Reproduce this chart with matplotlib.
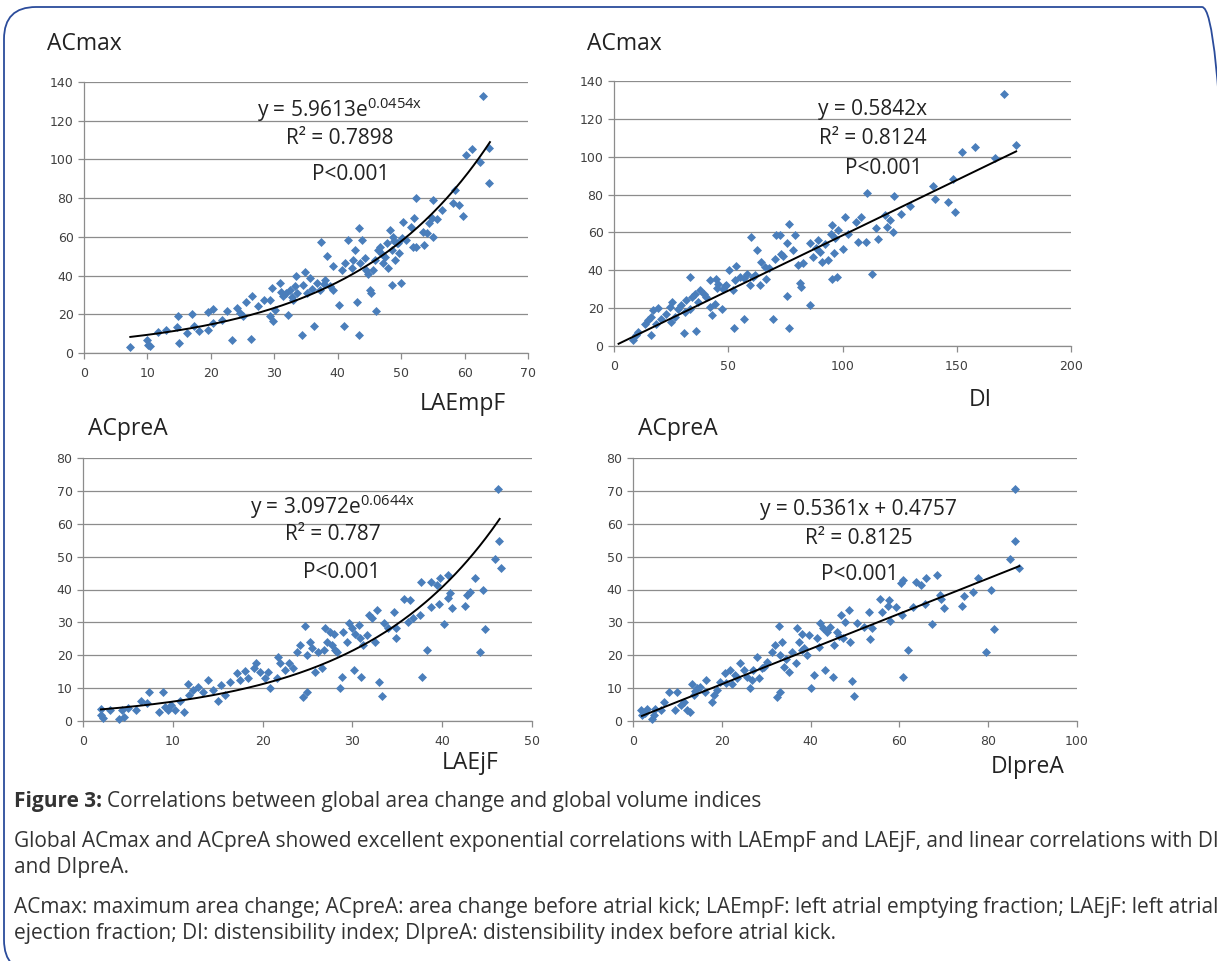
import numpy as np
import matplotlib
matplotlib.use("Agg")
import matplotlib.pyplot as plt
from matplotlib.patches import FancyBboxPatch

W, H = 1217, 961

# panel 1: ACmax vs LAEmpF
lae_mpf = [7.2, 9.9, 10.1, 10.4, 11.7, 12.9, 14.8, 14.6, 15.0, 16.2, 17.0, 17.3, 18.2, 19.6, 19.6,
           20.4, 20.3, 21.7, 22.6, 23.3, 24.1, 24.6, 25.1, 25.6, 26.4, 26.5, 27.5, 28.3, 29.3, 29.6,
           29.3, 29.8, 30.1, 30.9, 31.4, 31.9, 32.2, 32.5, 33.0, 33.2, 33.4, 34.3, 34.8, 34.6, 35.1,
           35.6, 36.3, 36.7, 37.4, 37.2, 38.0, 38.3, 38.8, 39.2, 39.3, 40.2, 40.6, 41.0, 41.1, 41.6,
           42.2, 42.4, 42.8, 43.0, 43.4, 43.4, 43.5, 43.8, 44.3, 44.5, 45.1, 45.2, 45.6, 45.9, 46.1,
           46.4, 46.6, 47.2, 47.4, 47.7, 48.0, 48.2, 48.5, 48.6, 48.7, 49.0, 49.3, 49.6, 49.9, 50.1,
           50.3, 50.8, 51.5, 51.8, 52.0, 52.4, 52.3, 53.5, 53.6, 54.0, 54.4, 54.8, 55.0, 55.0, 55.7,
           56.4, 58.2, 58.5, 59.1, 59.8, 60.3, 61.2, 62.5, 62.9, 63.9, 63.9,
           31.0, 32.8, 33.6, 36.0, 37.8, 44.8, 47.0, 48.9, 49.5]
acmax_1 = [2.9, 6.9, 4.3, 3.8, 11.0, 12.0, 18.9, 13.2, 5.2, 10.3, 20.1, 13.7, 11.2, 12.0, 21.0,
           22.7, 15.5, 17.2, 21.5, 6.9, 23.2, 20.6, 18.9, 26.6, 7.2, 29.2, 24.1, 27.5, 27.5, 33.8,
           18.9, 16.3, 22.3, 36.1, 29.2, 30.9, 19.8, 32.6, 27.5, 34.4, 39.9, 9.5, 42.1, 35.2, 30.9,
           38.7, 14.1, 36.1, 57.6, 32.6, 37.8, 50.3, 34.4, 44.7, 32.6, 24.9, 43.0, 13.7, 46.4, 58.4,
           43.8, 48.1, 53.3, 26.1, 64.4, 9.5, 46.4, 58.4, 49.0, 43.0, 32.6, 30.9, 43.0, 48.1, 21.8,
           53.3, 55.0, 46.4, 49.8, 56.7, 43.8, 63.6, 53.3, 34.9, 60.1, 48.1, 56.7, 51.5, 36.1, 59.3,
           67.9, 58.4, 65.3, 55.0, 69.6, 79.9, 55.0, 62.7, 55.8, 61.9, 67.0, 69.6, 79.0, 60.1, 69.1,
           73.9, 77.3, 84.2, 76.5, 70.8, 102.2, 105.2, 98.8, 132.6, 105.7, 88.0,
           31.5, 29.0, 31.0, 33.0, 35.5, 41.0, 51.0, 58.0, 57.0]

# panel 2: ACmax vs DI
di = [8.3, 9.8, 10.5, 13.4, 14.9, 16.4, 16.4, 17.1, 19.3, 18.5, 20.7, 22.9, 24.4, 25.1, 25.5,
      26.6, 28.0, 29.5, 31.0, 30.7, 31.4, 33.1, 33.1, 34.3, 35.9, 35.3, 36.8, 37.5, 39.4, 40.4,
      41.9, 41.9, 43.1, 44.1, 44.8, 45.5, 47.3, 47.7, 49.2, 50.4, 52.1, 52.4, 52.8, 53.6, 55.3,
      56.9, 58.0, 59.4, 60.1, 60.9, 62.6, 63.8, 64.5, 65.9, 66.7, 69.6, 70.4, 71.1, 72.6, 73.3,
      75.5, 75.8, 76.5, 76.5, 78.4, 79.1, 80.6, 81.3, 82.0, 82.8, 85.7, 85.7, 87.2, 89.3, 90.1,
      91.2, 92.3, 93.7, 94.8, 95.2, 95.6, 96.2, 97.4, 98.1, 100.3, 101.0, 102.5, 106.1, 106.9, 108.3,
      110.1, 110.8, 113.0, 114.5, 115.6, 118.5, 119.3, 120.7, 122.2, 122.5, 125.8, 129.5, 139.7, 140.4, 146.0,
      148.2, 149.2, 152.1, 158.2, 166.7, 170.7, 175.9,
      45.0, 48.5, 57.0, 61.5, 68.0, 74.0, 88.5, 96.5]
acmax_2 = [3.0, 5.6, 7.4, 11.8, 13.6, 5.6, 15.3, 18.9, 20.3, 11.8, 14.5, 17.1, 20.6, 12.7, 23.3,
           15.3, 19.7, 21.5, 18.0, 7.1, 24.2, 36.5, 19.7, 25.9, 7.8, 27.7, 23.3, 29.4, 27.7, 25.9,
           34.7, 20.6, 16.2, 22.4, 35.6, 33.0, 19.7, 30.3, 32.1, 40.0, 29.4, 9.5, 34.7, 42.1, 36.5,
           14.1, 38.3, 32.1, 57.7, 36.5, 50.6, 32.1, 44.4, 41.8, 35.6, 14.3, 45.7, 58.5, 58.5, 48.8,
           26.5, 54.5, 64.7, 9.5, 50.6, 58.5, 42.7, 33.3, 31.2, 43.6, 21.9, 54.5, 47.1, 55.9, 49.7,
           44.4, 54.1, 45.3, 59.4, 35.6, 63.8, 49.2, 36.5, 61.2, 51.5, 68.2, 59.4, 65.6, 55.0, 68.2,
           55.0, 80.6, 38.3, 62.6, 56.3, 69.1, 63.0, 66.5, 60.0, 79.4, 69.5, 73.9, 84.6, 77.6, 76.2,
           88.0, 70.9, 102.6, 104.9, 99.1, 133.1, 106.2,
           30.5, 31.5, 36.0, 37.5, 41.0, 47.5, 52.0, 57.0]

# panel 3: ACpreA vs LAEjF
laejf = [2.0, 2.0, 2.2, 3.0, 4.0, 4.3, 4.6, 5.0, 5.9, 6.5, 7.1, 7.4, 8.5, 8.9, 9.1,
         9.5, 9.8, 10.2, 10.8, 11.3, 11.7, 11.8, 12.3, 12.8, 13.4, 13.9, 14.5, 15.0, 15.4, 15.8,
         16.4, 17.1, 17.5, 18.0, 18.4, 19.0, 19.3, 19.7, 20.3, 20.6, 20.8, 21.6, 21.7, 21.9, 22.5,
         22.9, 23.4, 23.8, 24.2, 24.5, 24.7, 24.9, 24.9, 25.3, 25.5, 25.8, 26.2, 26.6, 26.8, 27.0,
         27.2, 27.5, 27.7, 27.9, 28.1, 28.3, 28.6, 28.8, 29.0, 29.4, 29.6, 29.9, 30.2, 30.3, 30.7,
         30.9, 31.0, 31.2, 31.6, 31.8, 32.2, 32.5, 32.7, 33.0, 33.3, 33.5, 34.0, 34.6, 34.8, 34.9,
         35.7, 36.2, 36.4, 36.8, 37.5, 37.6, 37.7, 38.3, 38.7, 38.8, 39.4, 39.6, 39.8, 40.2, 40.6,
         40.7, 40.9, 41.1, 42.5, 42.8, 43.1, 43.6, 44.2, 44.5, 44.8, 45.9, 46.2, 46.3, 46.5]
acprea_3 = [3.8, 1.8, 0.8, 3.3, 0.6, 3.3, 1.3, 4.0, 3.3, 6.1, 5.4, 8.9, 2.8, 8.9, 4.4,
            3.3, 4.9, 3.3, 6.1, 2.8, 11.4, 7.9, 9.4, 10.4, 8.9, 12.5, 9.4, 6.1, 10.9, 7.9,
            11.9, 14.5, 12.5, 15.2, 13.0, 16.0, 17.5, 15.0, 13.0, 15.0, 9.9, 13.0, 19.5, 17.5, 15.5,
            17.5, 16.0, 21.1, 23.1, 7.4, 29.0, 8.9, 20.1, 24.1, 22.1, 15.0, 21.1, 16.0, 21.6, 28.2,
            24.1, 27.1, 23.1, 26.6, 21.6, 21.1, 9.9, 13.5, 27.1, 24.1, 29.7, 28.2, 15.5, 26.6, 29.2,
            25.1, 13.5, 23.1, 26.1, 32.2, 31.2, 24.1, 33.7, 11.9, 7.7, 29.7, 28.2, 33.2, 25.1, 28.2,
            37.1, 30.2, 36.8, 31.2, 32.2, 42.3, 13.5, 21.6, 34.7, 42.3, 41.3, 35.7, 43.5, 29.4, 44.4,
            37.3, 38.8, 34.4, 35.0, 38.3, 39.3, 43.6, 20.9, 40.0, 27.9, 49.4, 70.7, 54.8, 46.4]

# panel 4: ACpreA vs DIpreA
diprea = [1.9, 2.0, 2.8, 3.2, 4.3, 5.0, 4.8, 6.2, 6.9, 8.0, 9.5, 9.9, 10.7, 11.4, 12.2,
          12.9, 13.3, 13.7, 14.4, 15.2, 16.5, 16.3, 17.8, 18.2, 18.9, 19.7, 20.8, 21.9, 22.3, 23.0,
          24.2, 24.9, 25.7, 26.3, 26.8, 27.9, 28.3, 29.1, 30.2, 31.3, 31.9, 32.4, 32.8, 33.2, 33.2,
          33.6, 33.9, 35.1, 35.8, 36.6, 36.9, 37.3, 38.1, 38.6, 39.2, 39.6, 40.2, 40.7, 41.4, 42.2,
          42.7, 43.3, 43.7, 44.4, 45.1, 45.3, 45.9, 46.8, 47.4, 47.8, 48.6, 48.8, 49.3, 49.8, 50.5,
          52.0, 53.1, 53.3, 53.8, 55.6, 56.1, 57.4, 57.6, 57.9, 59.3, 60.4, 60.6, 60.8, 60.9, 62.0,
          63.1, 63.8, 64.9, 65.8, 66.1, 67.3, 68.5, 69.2, 69.4, 70.1, 74.1, 74.5, 76.6, 77.6, 79.4,
          80.6, 81.2, 85.0, 86.0, 86.1, 86.9,
          14.0, 21.0, 23.5, 27.0, 29.5, 34.5, 38.0, 42.0, 46.5]
acprea_4 = [3.3, 1.8, 2.3, 3.8, 0.6, 3.8, 1.8, 3.3, 5.9, 8.9, 3.3, 8.9, 4.9, 5.9, 3.3,
            2.8, 11.4, 7.9, 9.9, 10.4, 12.5, 8.9, 5.9, 7.9, 9.4, 11.9, 14.5, 15.5, 11.4, 14.0,
            17.5, 15.5, 13.5, 9.9, 12.5, 19.5, 13.0, 16.0, 18.0, 21.1, 23.1, 7.4, 29.0, 8.9, 20.1,
            24.1, 16.5, 15.0, 21.1, 17.5, 28.2, 24.1, 26.6, 22.1, 20.1, 26.1, 10.1, 14.0, 25.1, 29.7,
            28.2, 15.5, 27.1, 28.7, 13.5, 23.1, 27.1, 32.2, 25.1, 30.2, 33.7, 24.1, 12.2, 7.7, 29.7,
            28.7, 33.2, 24.9, 28.2, 37.1, 33.2, 35.0, 36.8, 30.4, 34.7, 42.1, 32.2, 13.5, 42.8, 21.6,
            34.7, 42.3, 41.3, 35.7, 43.5, 29.4, 44.4, 38.3, 37.0, 34.4, 34.9, 38.1, 39.3, 43.6, 20.9,
            40.0, 27.9, 49.4, 70.7, 54.8, 46.4,
            9.0, 11.5, 13.0, 15.5, 16.5, 19.0, 21.5, 22.5, 26.0]

# trendlines (as printed on the chart)
exp1_a, exp1_b = 5.9613, 0.0454
lin2_k = 0.5842
exp3_a, exp3_b = 3.0972, 0.0644
lin4_k, lin4_c = 0.5361, 0.4757

plt.rcParams['mathtext.fontset'] = 'custom'
plt.rcParams['mathtext.rm'] = 'Open Sans'
plt.rcParams['mathtext.it'] = 'Open Sans'

fig = plt.figure(figsize=(W / 100, H / 100), dpi=100)


def px(x, y):
    return x / W, 1 - y / H


def make_ax(x0, y0, x1, y1, xmax, xstep, ymax, ystep):
    ax = fig.add_axes([x0 / W, 1 - y1 / H, (x1 - x0) / W, (y1 - y0) / H])
    ax.set_xlim(0, xmax)
    ax.set_ylim(0, ymax)
    ax.set_xticks(np.arange(0, xmax + 1, xstep))
    ax.set_yticks(np.arange(0, ymax + 1, ystep))
    ax.grid(axis='y', color='#8c8c8c', linewidth=0.9)
    ax.set_axisbelow(True)
    for s in ['top', 'right']:
        ax.spines[s].set_visible(False)
    for s in ['left', 'bottom']:
        ax.spines[s].set_color('#8c8c8c')
        ax.spines[s].set_linewidth(0.9)
    ax.tick_params(colors='#8c8c8c', labelcolor='#404040', labelsize=9,
                   length=4, width=0.9, direction='out')
    ax.tick_params(axis='x', pad=6)
    return ax


blue = '#4a7ebb'
ms = 21
ann = dict(fontsize=15, family='Open Sans', color='#222222', ha='center', va='center')
lab = dict(fontsize=16.5, family='Open Sans', color='#222222', va='center')

# panel 1
ax1 = make_ax(84, 82, 528, 353, 70, 10, 140, 20)
ax1.scatter(lae_mpf, acmax_1, marker='D', s=ms, color=blue, linewidths=0, clip_on=False, zorder=3)
xx = np.linspace(7.3, 64, 200)
ax1.plot(xx, exp1_a * np.exp(exp1_b * xx), color='black', lw=1.4, zorder=4)

# panel 2
ax2 = make_ax(614, 81, 1071, 346, 200, 50, 140, 20)
ax2.scatter(di, acmax_2, marker='D', s=ms, color=blue, linewidths=0, clip_on=False, zorder=3)
xx = np.linspace(2, 176, 50)
ax2.plot(xx, lin2_k * xx, color='black', lw=1.4, zorder=4)

# panel 3
ax3 = make_ax(83, 458, 532, 721, 50, 10, 80, 10)
ax3.scatter(laejf, acprea_3, marker='D', s=ms, color=blue, linewidths=0, clip_on=False, zorder=3)
xx = np.linspace(2, 46.4, 200)
ax3.plot(xx, exp3_a * np.exp(exp3_b * xx), color='black', lw=1.4, zorder=4)

# panel 4
ax4 = make_ax(633, 458, 1077, 721, 100, 20, 80, 10)
ax4.scatter(diprea, acprea_4, marker='D', s=ms, color=blue, linewidths=0, clip_on=False, zorder=3)
xx = np.linspace(2, 87, 50)
ax4.plot(xx, lin4_k * xx + lin4_c, color='black', lw=1.4, zorder=4)

# axis titles
fig.text(*px(47, 44), 'ACmax', **lab)
fig.text(*px(587, 44), 'ACmax', **lab)
fig.text(*px(88, 429), 'ACpreA', **lab)
fig.text(*px(638, 429), 'ACpreA', **lab)
fig.text(*px(463, 404), 'LAEmpF', ha='center', **lab)
fig.text(*px(980, 400), 'DI', ha='center', **lab)
fig.text(*px(470, 763), 'LAEjF', ha='center', **lab)
fig.text(*px(1028, 767), 'DIpreA', ha='center', **lab)

# trendline labels
fig.text(*px(340, 110), 'y = 5.9613e$^{0.0454x}$', **ann)
fig.text(*px(340, 139), 'R² = 0.7898', **ann)
fig.text(*px(351, 174), 'P<0.001', **ann)
fig.text(*px(873, 110), 'y = 0.5842x', **ann)
fig.text(*px(873, 138), 'R² = 0.8124', **ann)
fig.text(*px(884, 169), 'P<0.001', **ann)
fig.text(*px(333, 507), 'y = 3.0972e$^{0.0644x}$', **ann)
fig.text(*px(333, 535), 'R² = 0.787', **ann)
fig.text(*px(342, 573), 'P<0.001', **ann)
fig.text(*px(858, 509), 'y = 0.5361x + 0.4757', **ann)
fig.text(*px(859, 538), 'R² = 0.8125', **ann)
fig.text(*px(860, 574), 'P<0.001', **ann)

# caption
cap = dict(fontsize=15, family='Open Sans', color='#333333', va='center', ha='left')
t = fig.text(*px(14, 801), 'Figure 3:', fontweight='bold', **cap)
fig.canvas.draw()
bb = t.get_window_extent()
fig.text((bb.x1 + 5) / W, 1 - 801 / H, 'Correlations between global area change and global volume indices', **cap)
fig.text(*px(14, 841), 'Global ACmax and ACpreA showed excellent exponential correlations with LAEmpF '
         'and LAEjF, and linear correlations with DI', **cap)
fig.text(*px(14, 867), 'and DIpreA.', **cap)
fig.text(*px(14, 908), 'ACmax: maximum area change; ACpreA: area change before atrial kick; LAEmpF: left '
         'atrial emptying fraction; LAEjF: left atrial', **cap)
fig.text(*px(14, 934), 'ejection fraction; DI: distensibility index; DIpreA: distensibility index '
         'before atrial kick.', **cap)

# rounded frame
frame = FancyBboxPatch((4, H - 972), 1230, 965, boxstyle='round,pad=0,rounding_size=32',
                       transform=None, fill=False, edgecolor='#2b4c9b', linewidth=1.3)
fig.add_artist(frame)

fig.savefig('out.png', dpi=100)
